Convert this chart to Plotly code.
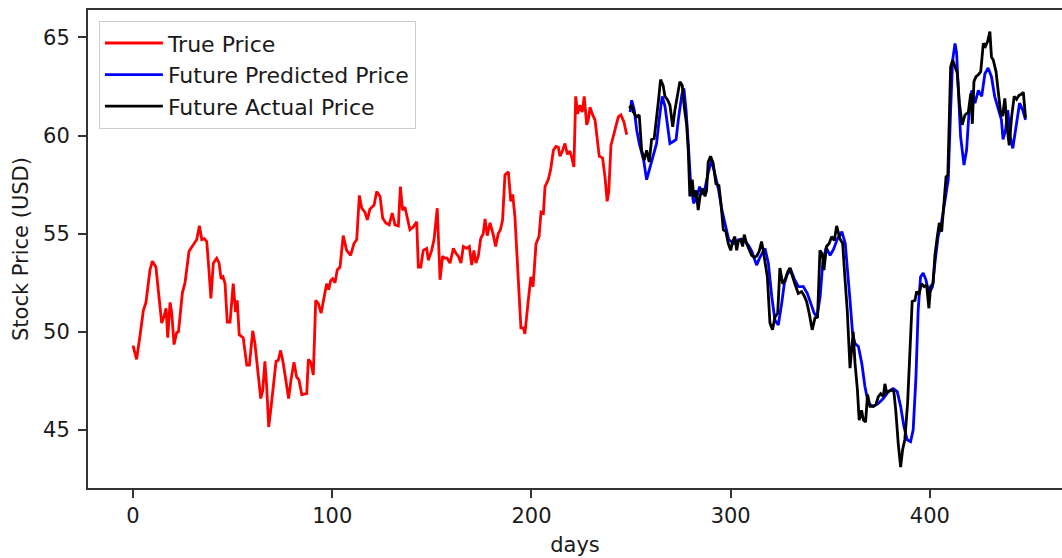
import plotly.graph_objects as go

# ---- data ----
true_days = [0, 1.8, 3.5, 5.2, 6.5, 8.5, 9.7, 11.5, 12.7, 14.4, 15.6, 16.6, 17.4, 18.6, 19.4, 20.6, 21.9, 22.8,
             24.8, 26.1, 28.1, 29.4, 31.1, 32.0, 33.3, 34.5, 35.8, 37, 38.1, 39.1, 40.3, 42, 43.2, 44.2, 45.2,
             46.2, 47.3, 48.7, 50.3, 51.5, 52.3, 53.3, 55.3, 57.1, 58.4, 60.1, 61.2, 62.9, 64.1, 65.1, 66.2,
             67.1, 68.1, 69.6, 71.8, 72.9, 74.1, 75.4, 76.6, 78.1, 79.3, 80.8, 82.1, 83.3, 84.7, 87.2, 88,
             89.2, 90.5, 91.7, 93, 94.4, 95.6, 97.2, 98.2, 99.2, 100.2, 101.4, 102.5, 103.9, 105.5, 107.2,
             109.2, 110.9, 112.3, 113.6, 114.8, 116.4, 117.6, 118.9, 120.3, 121, 122.3, 124, 125.3, 126.9,
             128.6, 130.1, 131.5, 133.2, 134.2, 135.3, 136.5, 137.7, 139, 140.7, 142.4, 143.2, 144.4, 145.7,
             147.4, 148.2, 149.9, 151.1, 152.7, 154.1, 155.4, 156.5, 157.7, 159.1, 160.8, 162.1, 163.3,
             164.6, 165.8, 167.5, 168.8, 170, 171.1, 172.1, 173.3, 174.5, 175.8, 176.7, 177.8, 179.2, 180.8,
             182, 183.3, 184.4, 185.5, 186.7, 188.4, 189.6, 190.6, 191.7, 193.4, 194.7, 195.9, 196.7, 198.4,
             199.7, 200.8, 202.3, 203.8, 204.8, 206, 206.8, 208.4, 209.6, 211, 212.3, 213.5, 214.3, 215.5,
             216.8, 218, 219.3, 220.2, 221.3, 222.2, 223.2, 224.3, 225.5, 226.5, 227.7, 228.5, 229.4, 230.7,
             231.9, 232.7, 234, 235.7, 236.9, 238, 238.8, 239.9, 241.1, 242.4, 243.6, 244.9, 246.4, 247.8]
true_price = [49.3, 48.6, 49.8, 51.1, 51.5, 53.15, 53.6, 53.3, 52.1, 50.45, 50.8, 51.2, 49.7, 51.5, 51.0, 49.35,
              49.95, 50.0, 52.0, 52.5, 54.1, 54.3, 54.6, 54.7, 55.4, 54.7, 54.75, 54.6, 53.15, 51.7, 53.5,
              53.75, 53.5, 52.7, 52.8, 52.45, 50.5, 50.5, 52.45, 51.0, 51.6, 49.85, 49.7, 48.3, 48.3, 50.05,
              49.4, 47.7, 46.6, 47.0, 48.5, 47.2, 45.15, 46.45, 48.5, 48.55, 49.05, 48.4, 47.55, 46.6, 47.55,
              48.45, 47.7, 47.55, 46.8, 46.85, 48.6, 48.45, 47.8, 51.6, 51.45, 50.95, 51.6, 52.45, 52.15,
              52.6, 52.7, 52.5, 53.15, 53.3, 54.9, 54.15, 53.9, 54.5, 54.7, 56.95, 56.3, 56.1, 55.7, 56.25,
              56.4, 56.45, 57.15, 56.9, 55.8, 55.55, 55.45, 56.05, 55.45, 55.4, 57.4, 56.2, 56.35, 55.85,
              55.2, 55.35, 55.6, 53.3, 53.3, 54.15, 54.25, 53.65, 54.15, 54.7, 56.3, 52.65, 53.85, 53.75,
              53.75, 53.5, 54.25, 54.0, 53.85, 53.5, 54.35, 54.25, 54.35, 53.4, 54.15, 53.5, 53.85, 54.75,
              55.0, 55.75, 54.9, 55.55, 54.95, 54.35, 55.0, 55.2, 55.7, 58.0, 58.15, 56.65, 57.0, 55.85,
              52.8, 50.2, 50.2, 49.9, 51.6, 52.8, 52.3, 54.5, 54.85, 56.1, 56.05, 57.4, 57.75, 58.25, 59.25,
              59.45, 59.4, 58.95, 59.2, 59.6, 59.05, 59.2, 58.9, 58.4, 62.0, 61.1, 61.55, 61.2, 62.0, 60.55,
              60.8, 61.45, 61.05, 60.8, 60.1, 58.95, 58.85, 57.9, 56.65, 57.15, 59.5, 59.95, 60.55, 60.95,
              61.05, 60.7, 60.05]

pred_days = [249.5, 250.3, 251.6, 252.8, 254.1, 256.3, 257.8, 259.5, 261.1, 262.8, 264.1, 265.6, 267, 268.4,
             269.5, 271.2, 272.6, 273.7, 275.5, 276.5, 277.6, 278.7, 279.9, 281.4, 283.1, 284.4, 285.6, 287.1,
             288.7, 290.4, 292.1, 293.8, 295.6, 297.3, 299, 301.5, 304, 306.5, 309, 310.6, 313, 314.7, 317.2,
             318.9, 320.6, 322.2, 323.9, 325.6, 326.9, 328.5, 330.2, 331.9, 334, 336.5, 338.5, 340.2, 341.9,
             343.3, 344.9, 346.2, 347.9, 349.9, 351.6, 353.6, 355.8, 357.5, 358.7, 359.9, 361.2, 362.4, 364.1,
             365.8, 367.4, 369.1, 371.6, 374.1, 376.6, 379.1, 381.6, 383.6, 385.3, 387, 388.6, 390.3, 391.6,
             393, 394.1, 395.3, 396.6, 398, 399.6, 401.3, 402.5, 404.1, 405.8, 407.5, 409.2, 410.4, 411.4,
             412.6, 413.4, 414.3, 415.4, 417.1, 418.4, 419.6, 421, 422.6, 424.3, 426, 427.6, 429.2, 430.9,
             432.5, 434.2, 435.9, 436.7, 438, 439.1, 440.3, 441.6, 443.3, 445, 446.6, 448]
pred_price = [61.2, 61.8, 61.3, 60.3, 59.6, 58.75, 57.75, 58.4, 59.0, 59.6, 60.8, 62.0, 61.5, 60.45, 59.6,
              59.7, 59.8, 60.8, 62.1, 62.4, 61.3, 59.6, 57.55, 56.55, 56.9, 57.4, 57.0, 57.3, 58.1, 58.75,
              58.1, 57.3, 56.2, 55.5, 54.7, 54.5, 54.7, 54.7, 54.4, 54.1, 53.4, 53.8, 54.25, 53.5, 51.8,
              50.6, 50.35, 51.45, 52.45, 52.95, 53.15, 52.7, 52.3, 52.3, 51.95, 51.45, 50.95, 50.75, 51.8,
              53.5, 54.3, 53.9, 54.2, 54.75, 55.1, 54.5, 53.15, 51.6, 49.9, 49.4, 49.25, 48.4, 47.2, 46.35,
              46.2, 46.35, 46.6, 46.95, 47.1, 46.95, 46.2, 45.15, 44.5, 44.4, 45.0, 47.7, 51.1, 52.8, 53.0,
              52.65, 51.95, 52.3, 53.5, 54.85, 55.55, 56.55, 57.75, 61.3, 63.85, 64.7, 64.2, 62.3, 59.95,
              58.5, 59.25, 61.15, 62.3, 61.65, 62.3, 62.0, 63.15, 63.45, 63.0, 62.0, 61.45, 60.8, 59.8,
              60.3, 61.3, 59.95, 59.35, 60.45, 61.65, 61.3, 60.8]

actual_days = [249.1, 250.3, 251.1, 252.8, 254.1, 255.3, 256.6, 257.8, 259.1, 260.3, 261.6, 262.8, 263.6,
               264.8, 266.1, 267, 268.4, 269.5, 270.9, 272, 273.2, 274.5, 275.7, 276.7, 277.9, 278.7, 279.5,
               280.7, 281.5, 282.6, 283.7, 284.6, 285.9, 287.1, 287.9, 288.7, 289.9, 291.2, 292.6, 294.1,
               295.1, 296.3, 297.6, 298.8, 300, 301, 302.1, 303, 303.8, 305, 306, 306.8, 308, 309.2, 310.5,
               311.8, 313, 314.3, 315.5, 316.3, 317.2, 318.4, 319.7, 321, 322.2, 323.6, 324.7, 326.1, 327.3,
               328.6, 329.7, 331.1, 332.2, 333.9, 335.6, 336.8, 338.1, 339.4, 340.9, 342.3, 343.6, 344.8,
               346, 346.8, 348.1, 349.4, 350.7, 352, 353.2, 354.8, 356.2, 357.3, 358.5, 359.9, 360.7, 361.5,
               362.4, 363.6, 364.5, 365.7, 366.6, 367.7, 368.7, 369.9, 371.6, 372.9, 374.1, 375.3, 376.6,
               377.4, 378.3, 379.6, 380.8, 381.9, 382.9, 384.1, 385.3, 386.3, 387.4, 388.8, 389.9, 391.1,
               392.5, 393.3, 394.5, 395.8, 397.1, 398.3, 399.5, 400.3, 401.6, 402.5, 403.7, 404.7, 405.9,
               406.7, 408.1, 409, 409.7, 410.4, 411.4, 412.6, 413.7, 414.8, 416.2, 417.6, 419.3, 420.5,
               421.3, 422.1, 423.1, 424.3, 425.5, 426.8, 427.9, 429, 430.1, 430.9, 431.8, 433.2, 434.4,
               435.5, 436.5, 437.6, 438.8, 439.8, 441, 442.3, 443.5, 444.7, 445.8, 446.9, 448]
actual_price = [61.4, 61.55, 61.2, 60.95, 61.05, 59.25, 58.75, 59.25, 58.65, 59.8, 59.85, 60.8, 61.65, 62.85,
                62.55, 62.0, 61.8, 61.55, 60.45, 61.3, 62.0, 62.75, 62.55, 61.45, 60.55, 59.25, 56.9, 57.75,
                56.85, 57.2, 56.2, 56.9, 57.3, 56.9, 57.2, 58.65, 58.95, 58.6, 57.55, 57.45, 56.55, 55.2,
                55.1, 54.5, 54.15, 54.6, 54.85, 54.15, 54.6, 54.7, 54.35, 54.95, 54.5, 54.25, 53.9, 53.8,
                53.85, 54.1, 54.6, 54.15, 53.65, 52.8, 50.45, 50.1, 50.75, 50.95, 53.25, 52.45, 52.65, 53.05,
                53.25, 52.75, 52.45, 51.95, 52.05, 51.85, 51.55, 50.95, 50.1, 50.7, 50.75, 54.15, 53.95,
                53.15, 54.35, 54.5, 54.85, 54.65, 55.4, 54.75, 54.5, 52.8, 51.1, 48.15, 49.15, 50.0, 48.4,
                47.05, 45.5, 46.0, 45.5, 45.4, 46.8, 46.2, 46.2, 46.3, 46.7, 46.85, 46.7, 47.35, 46.9, 47.0,
                47.05, 46.95, 45.95, 44.3, 43.1, 44.0, 44.5, 46.35, 48.55, 51.55, 51.6, 52.05, 51.9, 52.45,
                52.3, 52.4, 51.2, 52.3, 52.45, 53.9, 54.85, 55.55, 55.1, 56.2, 57.9, 58.0, 60.45, 63.5,
                63.85, 63.5, 63.2, 61.65, 60.55, 61.05, 61.2, 62.15, 60.6, 62.75, 63.0, 63.1, 63.25, 64.7,
                64.55, 64.8, 65.3, 64.0, 63.85, 63.25, 62.3, 61.15, 61.0, 61.9, 60.35, 59.5, 60.95, 62.0,
                61.85, 62.05, 62.1, 62.2, 60.9]

x_ticks = [0, 100, 200, 300, 400]
y_ticks = [45, 50, 55, 60, 65]

FONT = "DejaVu Sans"

fig = go.Figure()
fig.add_trace(go.Scatter(x=true_days, y=true_price, mode="lines", name="True Price",
                         line=dict(color="#ff0000", width=2.8)))
fig.add_trace(go.Scatter(x=pred_days, y=pred_price, mode="lines", name="Future Predicted Price",
                         line=dict(color="#0000ff", width=2.8)))
fig.add_trace(go.Scatter(x=actual_days, y=actual_price, mode="lines", name="Future Actual Price",
                         line=dict(color="#000000", width=2.8)))

fig.update_layout(
    width=1062, height=558,
    margin=dict(l=88, r=0, t=10, b=70, autoexpand=False),
    paper_bgcolor="white", plot_bgcolor="white",
    font=dict(family=FONT, size=21, color="#1a1a1a"),
    showlegend=True,
    legend=dict(x=0.011, y=0.977, xanchor="left", yanchor="top",
                bgcolor="white", bordercolor="#cccccc", borderwidth=1.2,
                font=dict(family=FONT, size=22, color="#1a1a1a"),
                itemwidth=58, tracegroupgap=0),
)
fig.update_xaxes(range=[-22.6, 466.3], tickvals=x_ticks, ticks="outside", ticklen=8, tickwidth=1.5,
                 tickcolor="#333", showline=True, linecolor="#333", linewidth=2, mirror=True,
                 showgrid=False, zeroline=False, automargin=False,
                 title=dict(text="days", font=dict(family=FONT, size=21), standoff=10))
fig.update_yaxes(range=[42.04, 66.4], tickvals=y_ticks, ticks="outside", ticklen=8, tickwidth=1.5,
                 tickcolor="#333", showline=True, linecolor="#333", linewidth=2, mirror=False,
                 showgrid=False, zeroline=False, automargin=False, ticklabelstandoff=4,
                 title=dict(text="Stock Price (USD)", font=dict(family=FONT, size=21), standoff=9))

fig.write_html("out.html", config={"displayModeBar": False},
               post_script="document.body.style.margin='0';document.body.style.padding='0';")
